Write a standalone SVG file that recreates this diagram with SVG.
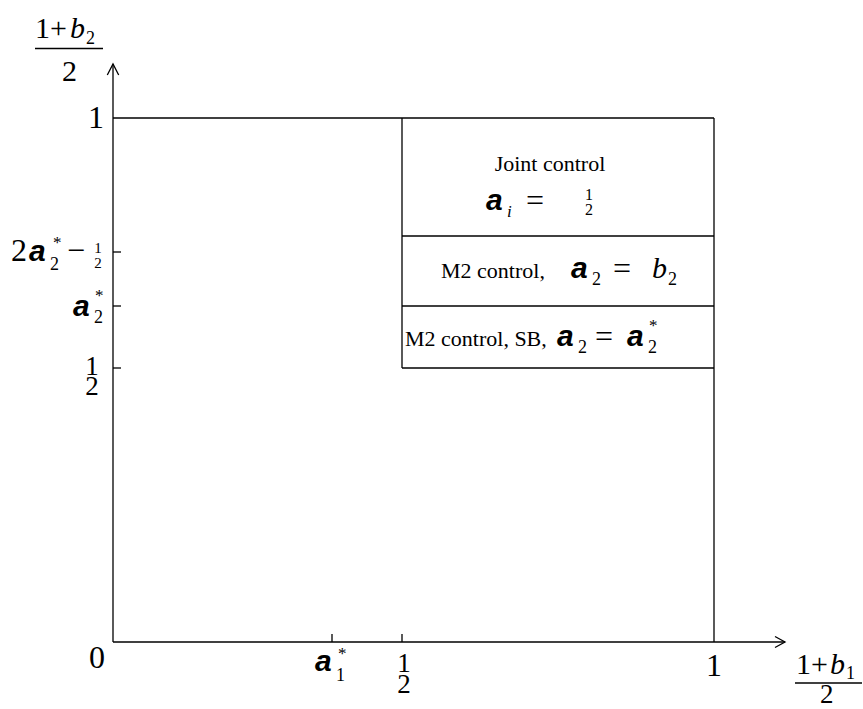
<svg xmlns="http://www.w3.org/2000/svg" width="863" height="709" viewBox="0 0 863 709">
<style>
.ln{stroke:#000;stroke-width:1.3;fill:none}
.s{font-family:"Liberation Serif","Times New Roman",serif;fill:#000}
.i{font-style:italic}
.a{font-family:"Liberation Sans",Arial,sans-serif;font-weight:bold;font-style:italic;fill:#000}
</style>
<rect width="863" height="709" fill="#fff"/>
<g id="connectors">
<line class="ln" x1="113" y1="642" x2="113" y2="64"/>
<polyline class="ln" points="107.3,75 113,64 118.7,75"/>
<line class="ln" x1="113" y1="642" x2="785" y2="642"/>
<polyline class="ln" points="775,636.5 785,642 775,647.5"/>
<line class="ln" x1="113" y1="118" x2="714" y2="118"/>
<line class="ln" x1="714" y1="118" x2="714" y2="642"/>
<line class="ln" x1="113" y1="252" x2="121" y2="252"/>
<line class="ln" x1="113" y1="306" x2="121" y2="306"/>
<line class="ln" x1="113" y1="368" x2="121" y2="368"/>
<line class="ln" x1="332" y1="634" x2="332" y2="642"/>
<line class="ln" x1="402" y1="634" x2="402" y2="642"/>
</g>
<g id="region-box">
<line class="ln" x1="402" y1="118" x2="402" y2="368"/>
<line class="ln" x1="402" y1="236" x2="714" y2="236"/>
<line class="ln" x1="402" y1="306" x2="714" y2="306"/>
<line class="ln" x1="402" y1="368" x2="714" y2="368"/>
</g>
<g id="joint-control">
<text class="s" x="550" y="171" font-size="22" text-anchor="middle">Joint control</text>
<text class="a" x="486" y="210" font-size="30">a</text>
<text class="s i" x="507" y="217" font-size="17">i</text>
<text class="s" x="526" y="211" font-size="32">=</text>
<text class="s" x="589" y="200" font-size="16" text-anchor="middle">1</text>
<text class="s" x="589" y="215" font-size="16" text-anchor="middle">2</text>
</g>
<g id="m2-control">
<text class="s" x="441" y="278" font-size="22">M2 control,</text>
<text class="a" x="571" y="278" font-size="30">a</text>
<text class="s" x="592" y="285" font-size="18">2</text>
<text class="s" x="613" y="279" font-size="32">=</text>
<text class="s i" x="652" y="278" font-size="30">b</text>
<text class="s" x="668" y="285" font-size="18">2</text>
</g>
<g id="m2-control-sb">
<text class="s" x="405" y="346" font-size="22">M2 control, SB,</text>
<text class="a" x="557" y="346" font-size="30">a</text>
<text class="s" x="578" y="353" font-size="18">2</text>
<text class="s" x="595" y="347" font-size="32">=</text>
<text class="a" x="627" y="346" font-size="30">a</text>
<text class="s" x="648" y="353" font-size="18">2</text>
<text class="s" x="649" y="331" font-size="17">*</text>
</g>
<g id="y-axis-label">
<text class="s" x="35" y="38" font-size="30">1</text>
<text class="s" x="50" y="38" font-size="30">+</text>
<text class="s i" x="70" y="38" font-size="30">b</text>
<text class="s" x="86" y="44" font-size="18">2</text>
<line class="ln" x1="35" y1="48.5" x2="103" y2="48.5"/>
<text class="s" x="62" y="81" font-size="30">2</text>
</g>
<g id="x-axis-label">
<text class="s" x="796" y="674" font-size="30">1</text>
<text class="s" x="811" y="674" font-size="30">+</text>
<text class="s i" x="830" y="674" font-size="30">b</text>
<text class="s" x="846" y="679" font-size="18">1</text>
<line class="ln" x1="795" y1="683" x2="862" y2="683"/>
<text class="s" x="820" y="703" font-size="27">2</text>
</g>
<g id="y-ticks">
<text class="s" x="104" y="128" font-size="32" text-anchor="end">1</text>
<text class="s" x="11" y="261" font-size="32">2</text>
<text class="a" x="29" y="261" font-size="30">a</text>
<text class="s" x="50" y="270" font-size="18">2</text>
<text class="s" x="53" y="248" font-size="17">*</text>
<text class="s" x="67" y="261" font-size="32">−</text>
<text class="s" x="98" y="253" font-size="15" text-anchor="middle">1</text>
<text class="s" x="98" y="268" font-size="15" text-anchor="middle">2</text>
<text class="a" x="73" y="316" font-size="30">a</text>
<text class="s" x="94" y="323" font-size="18">2</text>
<text class="s" x="95" y="301" font-size="17">*</text>
<text class="s" x="92" y="375" font-size="27" text-anchor="middle">1</text>
<text class="s" x="92" y="395" font-size="27" text-anchor="middle">2</text>
</g>
<g id="x-ticks">
<text class="s" x="97" y="668" font-size="32" text-anchor="middle">0</text>
<text class="a" x="315" y="671" font-size="30">a</text>
<text class="s" x="336" y="681" font-size="18">1</text>
<text class="s" x="338" y="659" font-size="17">*</text>
<text class="s" x="404" y="672" font-size="27" text-anchor="middle">1</text>
<text class="s" x="404" y="693" font-size="27" text-anchor="middle">2</text>
<text class="s" x="714" y="676" font-size="32" text-anchor="middle">1</text>
</g>
</svg>
